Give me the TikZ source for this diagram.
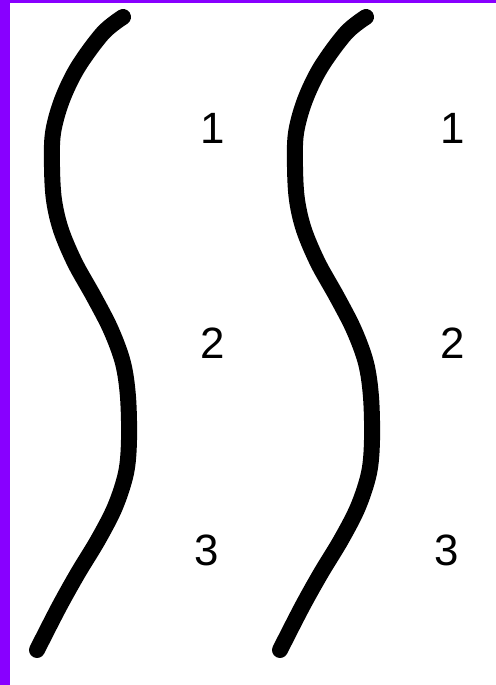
\documentclass[tikz,border=0pt]{standalone}
\usepackage{fontspec}
\setmainfont{Liberation Sans}
\definecolor{barviolet}{RGB}{136,0,255}

\begin{document}
\begin{tikzpicture}[x=1bp,y=-1bp,
  wave/.style={line width=16bp,line cap=round,line join=round},
  num/.style={font=\fontsize{44}{44}\selectfont,anchor=base,inner sep=0pt}]
\useasboundingbox (0,0) rectangle (496,685);
\fill[white] (0,0) rectangle (496,685);
\fill[barviolet] (0,0) rectangle (10,685);
\fill[barviolet] (0,0) rectangle (496,3);
% the two waves
\foreach \dx in {0,243} {
  \draw[wave,shift={(\dx,0)}] plot[smooth,tension=0.55] coordinates {
    (123,17) (103,33) (78,67) (62,100) (53,133) (52,167) (54,200) (61,230)
    (75,263) (94,297) (111,330) (123,363) (128,397) (129,440) (126,473)
    (115,507) (98,540) (78,573) (59,607) (37,650)};
}
\node[num] (l1) at (213,143) {1};
\node[num] (l2) at (213,358) {2};
\node[num] (l3) at (207,565) {3};
\node[num] (r1) at (453,143) {1};
\node[num] (r2) at (453,358) {2};
\node[num] (r3) at (447,565) {3};
\end{tikzpicture}
\end{document}
